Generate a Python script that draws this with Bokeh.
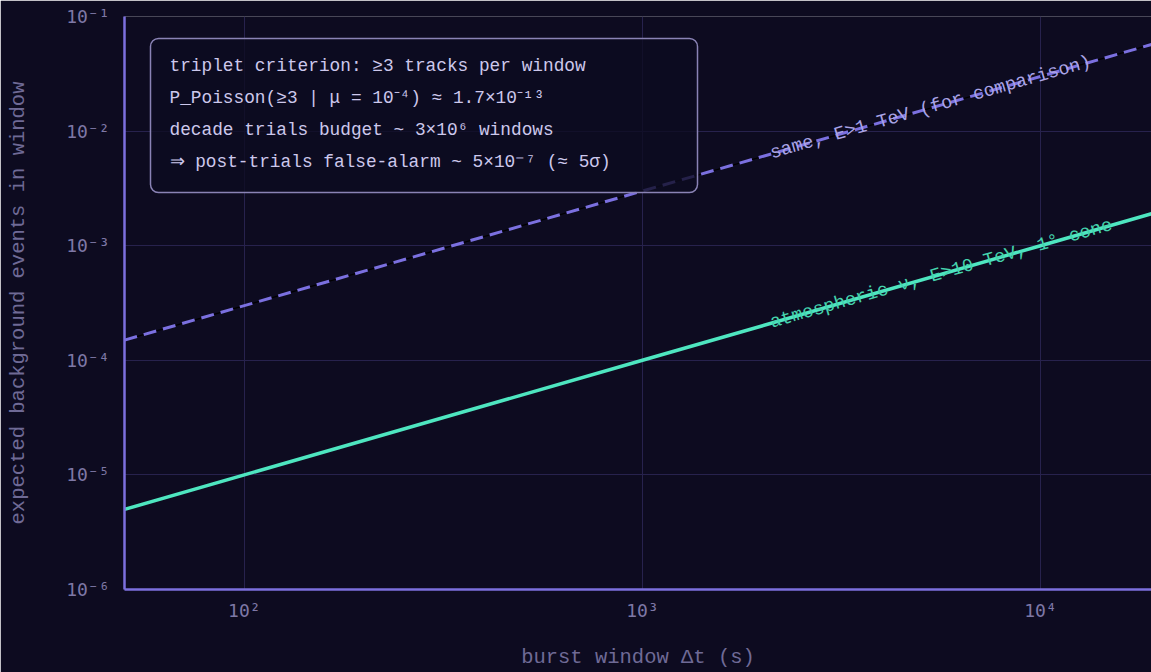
from bokeh.plotting import figure
from bokeh.models import (Range1d, FixedTicker, CustomJSTickFormatter, BoxAnnotation,
                          Label, ColumnDataSource)
from bokeh.core.properties import value
from bokeh.embed import file_html
from bokeh.resources import INLINE

# ---------------- data ----------------
window_s = [50, 100, 1000, 10000, 20000]          # burst window Δt (s)
mu_10tev = [5e-6, 1e-5, 1e-4, 1e-3, 2e-3]         # atmospheric ν, E>10 TeV, 1° cone
mu_1tev = [1.5e-4, 3e-4, 3e-3, 3e-2, 6e-2]        # same, E>1 TeV
series_labels = ["atmospheric ν, E>10 TeV, 1° cone", "same, E>1 TeV (for comparison)"]
label_dt = [2100, 2100]
label_mu = [2.1e-4, 6.3e-3]
x_ticks = [100, 1000, 10000]
y_ticks = [1e-6, 1e-5, 1e-4, 1e-3, 1e-2, 1e-1]
note_lines = [
    "triplet criterion: ≥3 tracks per window",
    "P_Poisson(≥3 | μ = 10⁻⁴) ≈ 1.7×10⁻¹³",
    "decade trials budget ~ 3×10⁶ windows",
    "⇒ post-trials false-alarm ~ 5×10⁻⁷ (≈ 5σ)",
]

# ---------------- style ----------------
BG = "#0d0b20"
GRID = "#27224d"
AXIS = "#7c70de"
TICK_TXT = "#7e78a6"
TITLE_TXT = "#6f6a96"
NOTE_TXT = "#cdc8ec"
NOTE_BORDER = "#8a83b5"
GREEN = "#4ee6c0"
PURPLE = "#7b70e0"
FONT = "Liberation Mono"
TICK_FONT = "DejaVu Sans Mono"

p = figure(width=1151, height=672, x_axis_type="log", y_axis_type="log",
           x_range=Range1d(50, 19000), y_range=Range1d(1e-6, 1e-1),
           output_backend="svg", toolbar_location=None,
           background_fill_color=BG, border_fill_color=BG,
           min_border_left=124, min_border_top=16, min_border_right=0,
           min_border_bottom=83, outline_line_color=None)

fmt = CustomJSTickFormatter(code="""
const sup = {'-':'\u207b','0':'\u2070','1':'\u00b9','2':'\u00b2','3':'\u00b3','4':'\u2074',
             '5':'\u2075','6':'\u2076','7':'\u2077','8':'\u2078','9':'\u2079'};
const e = Math.round(Math.log10(tick));
return '10' + String(e).split('').map(c => sup[c]).join('');
""")

p.xaxis.ticker = FixedTicker(ticks=x_ticks, minor_ticks=[])
p.yaxis.ticker = FixedTicker(ticks=y_ticks, minor_ticks=[])
for ax in (p.xaxis[0], p.yaxis[0]):
    ax.formatter = fmt
    ax.axis_line_color = AXIS
    ax.axis_line_width = 2.5
    ax.major_tick_line_color = None
    ax.minor_tick_line_color = None
    ax.major_label_text_font = TICK_FONT
    ax.major_label_text_font_size = "18px"
    ax.major_label_text_color = TICK_TXT
    ax.axis_label_text_font = FONT
    ax.axis_label_text_font_size = "20.5px"
    ax.axis_label_text_font_style = "normal"
    ax.axis_label_text_color = TITLE_TXT

p.xaxis.axis_label = "burst window Δt (s)"
p.yaxis.axis_label = "expected background events in window"
p.xaxis.major_label_standoff = 4
p.xaxis.axis_label_standoff = 22
p.yaxis.major_label_standoff = 9
p.yaxis.axis_label_standoff = 33

p.xgrid.grid_line_color = GRID
p.ygrid.grid_line_color = GRID
p.xgrid.grid_line_width = 1
p.ygrid.grid_line_width = 1

src = ColumnDataSource(dict(dt=window_s, mu10=mu_10tev, mu1=mu_1tev))
p.line("dt", "mu1", source=src, line_color="black", line_width=1.2)
p.line("dt", "mu1", source=src, line_color=PURPLE, line_width=3, line_dash="13 7")
p.line("dt", "mu10", source=src, line_color=GREEN, line_width=3.5)

lab_src = ColumnDataSource(dict(x=label_dt, y=label_mu, text=series_labels,
                                color=["#45d3ad", "#aaa4e6"]))
p.text(x="x", y="y", text="text", source=lab_src, angle=16.06, angle_units="deg",
       text_font=value(FONT), text_font_size="18.5px", text_color="color",
       text_baseline="middle", text_align="left")

# annotation box (screen units relative to the frame)
box = BoxAnnotation(left=26, right=573, bottom=397, top=551,
                    left_units="screen", right_units="screen",
                    top_units="screen", bottom_units="screen",
                    fill_color=BG, fill_alpha=0.78,
                    line_color=NOTE_BORDER, line_width=1.5, line_alpha=1.0,
                    border_radius=8)
p.add_layout(box)
for i, t in enumerate(note_lines):
    p.add_layout(Label(x=45, y=524 - 32 * i, x_units="screen", y_units="screen",
                       text=t, text_font=FONT, text_font_size="17.8px",
                       text_color=NOTE_TXT, text_baseline="middle", text_align="left"))

open("out.html", "w").write(file_html(p, INLINE))
